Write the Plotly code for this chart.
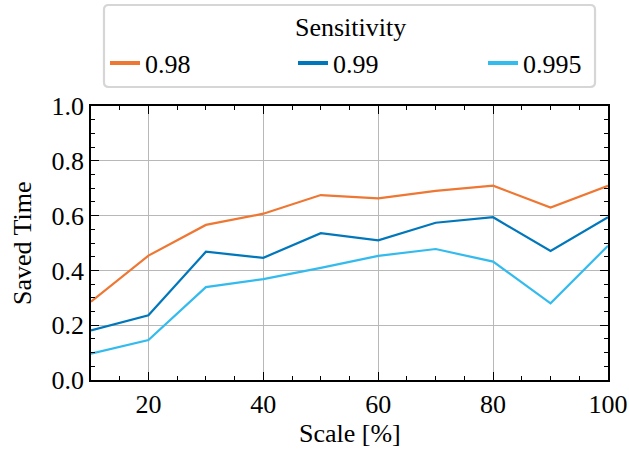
import plotly.graph_objects as go

# Scale percentages on the x axis
scale = [10, 20, 30, 40, 50, 60, 70, 80, 90, 100]

# Saved time for each sensitivity level
saved_098 = [0.286, 0.454, 0.566, 0.607, 0.675, 0.663, 0.690, 0.709, 0.629, 0.709]
saved_099 = [0.181, 0.236, 0.468, 0.446, 0.536, 0.510, 0.574, 0.594, 0.471, 0.594]
saved_0995 = [0.096, 0.146, 0.339, 0.368, 0.409, 0.453, 0.478, 0.432, 0.280, 0.490]

labels = ["0.98", "0.99", "0.995"]
colors = ["#EE7733", "#0077BB", "#33BBEE"]
values = [saved_098, saved_099, saved_0995]

FONT = "Liberation Serif"
FS = 26

fig = go.Figure()
for name, vals, color in zip(labels, values, colors):
    fig.add_trace(go.Scatter(
        x=scale, y=vals, mode="lines", name=name,
        line=dict(color=color, width=2.2), showlegend=False,
    ))

# One legend per entry so the three keys spread evenly across the frame
legend_ids = ["legend", "legend2", "legend3"]
legend_x = [0.0271, 0.3907, 0.7582]
for name, color, lid in zip(labels, colors, legend_ids):
    fig.add_trace(go.Scatter(
        x=[None], y=[None], mode="lines", name=name, legend=lid,
        line=dict(color=color, width=4),
    ))

axis_common = dict(
    showline=True, linecolor="black", linewidth=1.5, mirror="allticks",
    ticks="inside", ticklen=8, tickwidth=1.2, tickcolor="black",
    showgrid=True, gridcolor="#b8b8b8", gridwidth=1.2,
    zeroline=False, automargin=False,
    tickfont=dict(family=FONT, size=FS, color="black"),
)

fig.update_xaxes(
    range=[10, 100], tick0=0, dtick=20,
    minor=dict(ticks="inside", ticklen=4, tickwidth=1, tickcolor="black", dtick=5, tick0=0, showgrid=False),
    **axis_common,
)
fig.update_yaxes(
    range=[0, 1], tick0=0, dtick=0.2, tickformat=".1f",
    minor=dict(ticks="inside", ticklen=4, tickwidth=1, tickcolor="black", dtick=0.05, tick0=0, showgrid=False),
    **axis_common,
)

# Rounded frame around the legend block (paper coordinates)
x0, x1, y0, y1 = 0.0251, 0.9749, 1.0693, 1.3686
rx, ry = 0.009, 0.017
frame_path = (
    f"M{x0 + rx},{y1} L{x1 - rx},{y1} Q{x1},{y1} {x1},{y1 - ry} "
    f"L{x1},{y0 + ry} Q{x1},{y0} {x1 - rx},{y0} "
    f"L{x0 + rx},{y0} Q{x0},{y0} {x0},{y0 + ry} "
    f"L{x0},{y1 - ry} Q{x0},{y1} {x0 + rx},{y1} Z"
)

legend_style = dict(
    orientation="h", xanchor="left", y=1.157, yanchor="middle",
    bgcolor="rgba(0,0,0,0)", borderwidth=0, itemwidth=30,
    font=dict(family=FONT, size=FS, color="black"),
)

text_font = dict(family=FONT, size=FS, color="black")

fig.update_layout(
    width=629, height=456,
    margin=dict(l=91, r=21, t=106, b=76, autoexpand=False),
    paper_bgcolor="white", plot_bgcolor="white",
    font=text_font,
    shapes=[dict(
        type="path", path=frame_path, xref="paper", yref="paper",
        line=dict(color="#d6d6d6", width=2.2), fillcolor="white", layer="below",
    )],
    annotations=[
        dict(text="Sensitivity", x=0.501, y=1.2883, xref="paper", yref="paper",
             xanchor="center", yanchor="middle", showarrow=False, font=text_font),
        dict(text="Scale [%]", x=0.5, y=-0.197, xref="paper", yref="paper",
             xanchor="center", yanchor="middle", showarrow=False, font=text_font),
        dict(text="Saved Time", x=-0.1335, y=0.5, xref="paper", yref="paper",
             xanchor="center", yanchor="middle", textangle=-90, showarrow=False,
             font=text_font),
    ],
    legend=dict(x=legend_x[0], **legend_style),
    legend2=dict(x=legend_x[1], **legend_style),
    legend3=dict(x=legend_x[2], **legend_style),
)

fig.write_html("out.html")
